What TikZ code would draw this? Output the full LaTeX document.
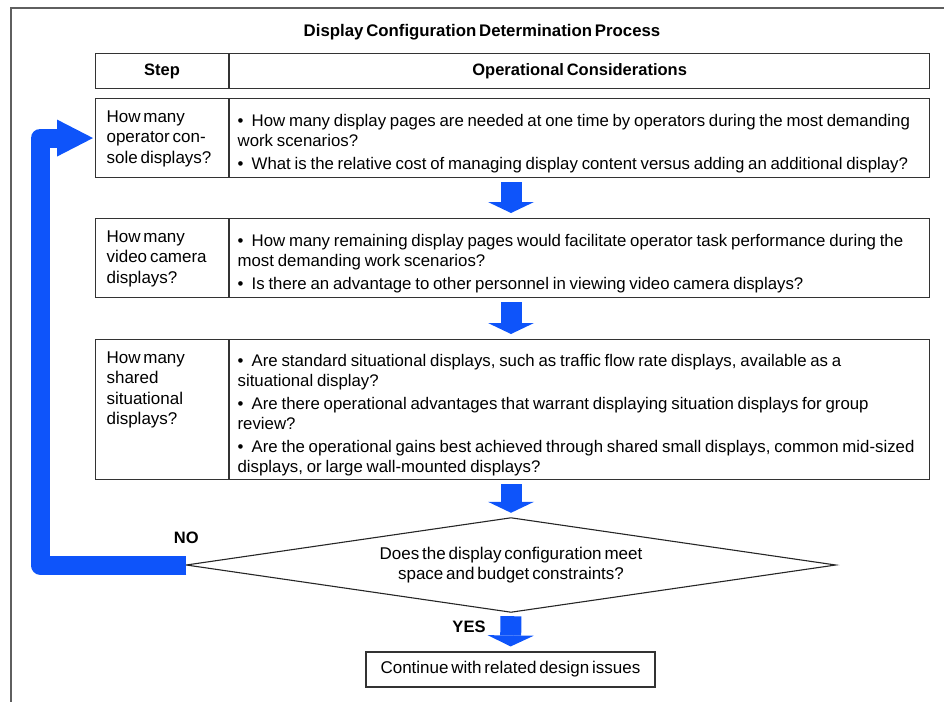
\documentclass[tikz,border=0pt]{standalone}
\usepackage{fontspec}
\setmainfont[WordSpace=0.6]{Liberation Sans}
\usetikzlibrary{arrows.meta,positioning}

\definecolor{flowblue}{RGB}{14,84,250}
\definecolor{framegray}{RGB}{95,95,95}

% Aufzaehlungspunkt mit haengendem Einzug
\newcommand{\bul}{\par\hangindent=14pt\hangafter=1\noindent\makebox[14pt][l]{\textbullet}}
% Text oben in der Schritt-Spalte
\newcommand{\topbox}[2]{\parbox[c][#1][t]{111pt}{#2}}

\tikzset{
	cell/.style={draw=black!80, line width=1.1pt, anchor=north west},
	headcell/.style={cell, minimum height=35pt, inner sep=0pt, font=\fontsize{16.5}{20}\selectfont\bfseries},
	stepcell/.style={cell, inner xsep=11pt, inner ysep=12pt},
	conscell/.style={cell, align=left, text width=684pt, inner xsep=8pt, inner ysep=0pt,
		font=\fontsize{16.8}{19.5}\selectfont,
		execute at begin node={\setlength{\parskip}{4pt}\spaceskip=3.8pt plus 1pt minus 0.5pt\hyphenpenalty=10000}},
	decision/.style={minimum width=649pt, minimum height=94pt, inner sep=0pt, align=center},
	endbox/.style={draw=black!80, line width=1.1pt, minimum width=289pt, minimum height=35pt},
	lbl/.style={font=\fontsize{16.5}{18}\selectfont\bfseries},
	bigarrow/.style={draw=flowblue, line width=21pt, shorten <=4pt, shorten >=5pt,
		-{Triangle[width=46pt,length=11pt,line width=0pt]}},
	loopline/.style={draw=flowblue, line width=19pt, line join=round, shorten >=2pt,
		-{Triangle[width=37pt,length=36pt,line width=0pt]}}
}

\begin{document}
\begin{tikzpicture}[x=1pt, y=-1pt, font=\fontsize{17}{20.5}\selectfont]
	\useasboundingbox (0,0) rectangle (944,701);
	\draw[framegray, line width=1.4pt] (11,702) -- (11,8) -- (945,8);		% Rahmen

	\node[font=\fontsize{16.8}{18}\selectfont\bfseries] (title) at (482,32) {Display Configuration Determination Process};

	% Kopfzeile
	\node[headcell, minimum width=133pt] (hstep) at (95,53) {Step};
	\node[headcell, minimum width=700pt] (hcons) at (hstep.north east) {Operational Considerations};

	% Zeile 1
	\node[stepcell] (s1) at (95,98) {\topbox{55pt}{How many\\operator con-\\sole displays?}};
	\node[conscell, minimum height=79pt] (c1) at (s1.north east) {%
		\bul How many display pages are needed at one time by operators during the most demanding\\work scenarios?
		\bul What is the relative cost of managing display content versus adding an additional display?};

	% Zeile 2
	\node[stepcell] (s2) at (95,218) {\topbox{55pt}{How many\\video camera\\displays?}};
	\node[conscell, minimum height=79pt] (c2) at (s2.north east) {%
		\bul How many remaining display pages would facilitate operator task performance during the\\most demanding work scenarios?
		\bul Is there an advantage to other personnel in viewing video camera displays?};

	% Zeile 3
	\node[stepcell] (s3) at (95,339) {\topbox{116pt}{How many\\shared\\situational\\displays?}};
	\node[conscell, minimum height=140pt] (c3) at (s3.north east) {%
		\bul Are standard situational displays, such as traffic flow rate displays, available as a\\situational display?
		\bul Are there operational advantages that warrant displaying situation displays for group\\review?
		\bul Are the operational gains best achieved through shared small displays, common mid-sized\\displays, or large wall-mounted displays?};

	% Entscheidung
	\node[decision] (dec) at (511,565) {Does the display configuration meet\\space and budget constraints?};
	\draw[black!85, line width=1.1pt] (dec.west) -- (dec.north) -- (dec.east) -- (dec.south) -- cycle;
	\node[lbl] (no) at ([yshift=27pt]dec.west) {NO};
	\node[lbl] (yes) at ([xshift=-42pt,yshift=-15pt]dec.south) {YES};
	\node[endbox] (fin) at (510.5,669.5) {Continue with related design issues};

	% Pfeile
	\draw[bigarrow] (c1.south -| dec.north) -- (c2.north -| dec.north);
	\draw[bigarrow] (c2.south -| dec.north) -- (c3.north -| dec.north);
	\draw[bigarrow] (c3.south -| dec.north) -- (dec.north);
	\draw[bigarrow] (dec.south) -- (fin.north);
	\coordinate (lp) at ([xshift=-55pt]s1.west);
	\draw[loopline] (dec.west) -| (lp) -- (s1.west);
\end{tikzpicture}
\end{document}
